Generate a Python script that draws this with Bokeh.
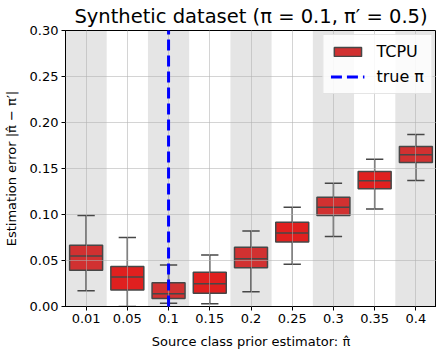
from bokeh.plotting import figure
from bokeh.models import FixedTicker, Legend, LegendItem, ColumnDataSource, Range1d, CustomJSTickFormatter
from bokeh.embed import file_html
from bokeh.resources import INLINE

# ---- data ----
categories = ["0.01", "0.05", "0.1", "0.15", "0.2", "0.25", "0.3", "0.35", "0.4"]
whisker_low = [0.017, 0.000, 0.0036, 0.003, 0.016, 0.046, 0.076, 0.106, 0.137]
q1 = [0.0395, 0.0178, 0.0087, 0.0145, 0.042, 0.070, 0.099, 0.128, 0.1565]
median = [0.055, 0.032, 0.0138, 0.0247, 0.052, 0.080, 0.108, 0.1366, 0.165]
q3 = [0.0667, 0.0435, 0.0257, 0.0373, 0.0645, 0.0917, 0.1188, 0.1467, 0.174]
whisker_high = [0.099, 0.075, 0.045, 0.056, 0.082, 0.108, 0.134, 0.160, 0.187]
true_pi = "0.1"
y_ticks = [0.0, 0.05, 0.10, 0.15, 0.20, 0.25, 0.30]

idx = list(range(len(categories)))
shaded = [i for i in idx if i % 2 == 0]
box_colors = ["#d13131" if i % 2 == 0 else "#e0201f" for i in idx]

FONT = "DejaVu Sans"

p = figure(frame_width=371, frame_height=276, output_backend="svg", toolbar_location=None,
           x_range=Range1d(-0.5, len(categories) - 0.5), y_range=Range1d(0, 0.30),
           min_border_left=62, min_border_right=0, min_border_top=30, min_border_bottom=35)

p.title.text = "Synthetic dataset (π = 0.1, π′ = 0.5)"
p.title.text_font = FONT
p.title.text_font_size = "19.5px"
p.title.text_font_style = "normal"
p.title.text_color = "black"
p.title.align = "center"
p.title.offset = 0
p.title.standoff = 5

# shaded bands
p.vbar(x=shaded, width=1.0, bottom=0, top=0.30, fill_color="#000000", fill_alpha=0.1,
       line_color=None)

src = ColumnDataSource(dict(x=idx, lo=whisker_low, q1=q1, med=median, q3=q3, hi=whisker_high,
                            x0=[i - 0.21 for i in idx], x1=[i + 0.21 for i in idx],
                            bx0=[i - 0.4 for i in idx], bx1=[i + 0.4 for i in idx],
                            color=box_colors))
wc = "#474747"
p.segment(x0="x", y0="lo", x1="x", y1="q1", source=src, line_color=wc, line_width=1.5)
p.segment(x0="x", y0="q3", x1="x", y1="hi", source=src, line_color=wc, line_width=1.5)
p.segment(x0="x0", y0="lo", x1="x1", y1="lo", source=src, line_color=wc, line_width=1.5)
p.segment(x0="x0", y0="hi", x1="x1", y1="hi", source=src, line_color=wc, line_width=1.5)
boxes = p.vbar(x="x", width=0.8, bottom="q1", top="q3", source=src, fill_color="color",
               line_color=wc, line_width=1.5)
p.segment(x0="bx0", y0="med", x1="bx1", y1="med", source=src, line_color=wc, line_width=1.5)

tp = categories.index(true_pi)
tline = p.line(x=[tp, tp], y=[0, 0.30], line_color="#0000ff", line_width=3, line_dash="11 5",
               level="overlay")

legend = Legend(items=[LegendItem(label="TCPU", renderers=[boxes]),
                       LegendItem(label="true π", renderers=[tline])],
                location="top_right", label_text_font=FONT, label_text_font_size="16px",
                label_text_color="black",
                glyph_width=34, glyph_height=11, label_standoff=12, spacing=6,
                padding=7, margin=4, border_line_color="#cccccc", border_line_width=1,
                background_fill_alpha=0.85)
p.add_layout(legend)

# axes
p.xaxis.ticker = FixedTicker(ticks=idx)
p.xaxis.major_label_overrides = {i: c for i, c in zip(idx, categories)}
p.yaxis.ticker = FixedTicker(ticks=y_ticks)
p.yaxis.formatter = CustomJSTickFormatter(code="return tick.toFixed(2);")
for ax in (p.xaxis[0], p.yaxis[0]):
    ax.major_label_text_font = FONT
    ax.major_label_text_font_size = "13px"
    ax.major_label_text_color = "black"
    ax.axis_label_text_font = FONT
    ax.axis_label_text_font_size = "13px"
    ax.axis_label_text_font_style = "normal"
    ax.axis_label_text_color = "black"
    ax.major_tick_in = 0
    ax.major_tick_out = 4
    ax.minor_tick_out = 0
    ax.minor_tick_in = 0
    ax.axis_line_color = "black"
    ax.major_tick_line_color = "black"
    ax.major_label_standoff = 3
p.xaxis.axis_label = "Source class prior estimator: π̂"
p.yaxis.axis_label = "Estimation error |π̂ − π′|"
p.xaxis.axis_label_standoff = 8
p.yaxis.axis_label_standoff = 8

p.outline_line_color = "black"
p.outline_line_width = 1
p.grid.grid_line_color = "#b0b0b0"
p.grid.grid_line_alpha = 0.55
p.grid.level = "annotation"

open("out.html", "w").write(file_html(p, INLINE))
